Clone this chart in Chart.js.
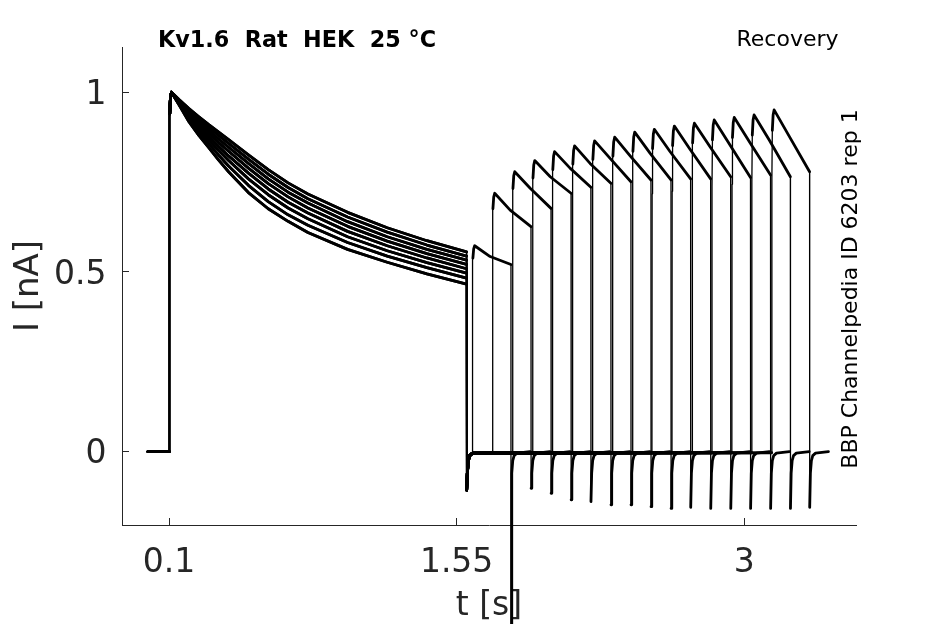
<!DOCTYPE html>
<html><head><meta charset="utf-8">
<script src="https://cdn.jsdelivr.net/npm/chart.js@4.4.0/dist/chart.umd.min.js"></script>
<style>html,body{margin:0;padding:0;background:#fff;overflow:hidden}#wrap{width:945px;height:624px}</style>
</head><body><div id="wrap"><canvas id="c" width="945" height="624"></canvas></div>
<script>
// ---- tick labels ----
const xTicks = [0.1, 1.55, 3];
const xTickLabels = ['0.1', '1.55', '3'];
const yTicks = [0, 0.5, 1];
const yTickLabels = ['0', '0.5', '1'];

// ---- first pulse (conditioning) decays ----
const decayT = [0.112, 0.15, 0.2, 0.25, 0.3, 0.35, 0.4, 0.5, 0.6, 0.7, 0.8, 1.0, 1.2, 1.4, 1.6];
const decay1 = [1, 0.980, 0.955, 0.932, 0.910, 0.889, 0.868, 0.826, 0.785, 0.748, 0.717, 0.666, 0.623, 0.587, 0.556];
const decay2 = [1, 0.977, 0.950, 0.925, 0.902, 0.880, 0.858, 0.814, 0.772, 0.735, 0.704, 0.653, 0.611, 0.575, 0.544];
const decay3 = [1, 0.975, 0.946, 0.919, 0.894, 0.870, 0.847, 0.802, 0.759, 0.722, 0.692, 0.640, 0.598, 0.563, 0.533];
const decay4 = [1, 0.973, 0.941, 0.912, 0.886, 0.860, 0.836, 0.789, 0.746, 0.709, 0.678, 0.627, 0.586, 0.551, 0.521];
const decay5 = [1, 0.971, 0.936, 0.905, 0.877, 0.849, 0.823, 0.775, 0.731, 0.694, 0.664, 0.613, 0.573, 0.539, 0.509];
const decay6 = [1, 0.969, 0.931, 0.898, 0.867, 0.838, 0.810, 0.759, 0.715, 0.678, 0.648, 0.598, 0.559, 0.526, 0.497];
const decay7 = [1, 0.967, 0.925, 0.889, 0.857, 0.825, 0.795, 0.741, 0.696, 0.659, 0.630, 0.582, 0.544, 0.512, 0.483];
const decay8 = [1, 0.965, 0.918, 0.880, 0.846, 0.811, 0.779, 0.721, 0.676, 0.641, 0.610, 0.563, 0.527, 0.495, 0.466];
const decays = [decay1, decay2, decay3, decay4, decay5, decay6, decay7, decay8];
const sweepDecay = [0, 3, 6, 1, 4, 7, 2, 5, 0, 3, 6, 1, 4, 7, 2, 5];

const p1Start = 0.1;
const p1End = 1.6;
const traceStart = -0.006;
const tail1Min = -0.107;

// ---- test pulses (one per sweep) ----
const p2Start = [1.629, 1.730, 1.831, 1.932, 2.032, 2.133, 2.234, 2.335, 2.436, 2.535, 2.636, 2.737, 2.837, 2.938, 3.038, 3.139];
const p2End   = [1.824, 1.925, 2.026, 2.127, 2.227, 2.328, 2.429, 2.530, 2.631, 2.730, 2.831, 2.932, 3.032, 3.133, 3.233, 3.330];
const p2Peak  = [0.573, 0.719, 0.779, 0.810, 0.835, 0.851, 0.865, 0.875, 0.889, 0.897, 0.906, 0.914, 0.923, 0.930, 0.937, 0.951];
const p2Mid   = [0.543, 0.672, 0.733, 0.765, 0.789, 0.802, 0.816, 0.823, 0.830, 0.836, 0.842, 0.849, 0.855, 0.861, 0.866, 0.876];
const p2Final = [0.521, 0.626, 0.677, 0.719, 0.736, 0.747, 0.751, 0.756, 0.756, 0.759, 0.759, 0.765, 0.763, 0.770, 0.765, 0.779];
const tailMin = [-3.0, -0.102, -0.116, -0.134, -0.139, -0.148, -0.148, -0.153, -0.158, -0.155, -0.158, -0.158, -0.158, -0.158, -0.158, -0.155];
const sweepStop = [1.920, 2.020, 2.121, 2.222, 2.322, 2.423, 2.524, 2.625, 2.726, 2.825, 2.926, 3.027, 3.127, 3.228, 3.328, 3.425];

// ---- shared waveform shapes ----
const riseDt   = [0, 0.0008, 0.003, 0.007, 0.012];
const riseFrac = [0, 0.80, 0.94, 0.985, 1];
const midDt = 0.09;
const tailDt  = [0.0005, 0.004, 0.009, 0.016, 0.03];
const tailVal = [null, -0.06, -0.025, -0.011, -0.004];
const baseLevel = -0.003;

function buildSweep(i) {
  const pts = [];
  pts.push([traceStart, 0], [p1Start, 0]);
  for (let k = 1; k < riseDt.length - 1; k++) pts.push([p1Start + riseDt[k], riseFrac[k]]);
  const d = decays[sweepDecay[i]];
  for (let k = 0; k < decayT.length; k++) pts.push([decayT[k], d[k]]);
  tailDt.forEach((dt, k) => pts.push([p1End + dt, k === 0 ? tail1Min : tailVal[k]]));
  const s = p2Start[i], e = p2End[i], pk = p2Peak[i];
  pts.push([s, baseLevel]);
  for (let k = 1; k < riseDt.length; k++) pts.push([s + riseDt[k], pk * riseFrac[k]]);
  pts.push([s + midDt, p2Mid[i]], [e, p2Final[i]]);
  tailDt.forEach((dt, k) => pts.push([e + dt, k === 0 ? tailMin[i] : tailVal[k]]));
  pts.push([sweepStop[i], 0]);
  return pts.map(p => ({x: p[0], y: p[1]}));
}

const datasets = p2Start.map((_, i) => {
  const ds = {
    data: buildSweep(i),
    borderColor: '#000',
    borderWidth: 2.8,
    pointRadius: 0,
    tension: 0,
    fill: false,
    borderCapStyle: 'round',
    borderJoinStyle: 'round',
    segment: {
      borderWidth: ctx => Math.abs(ctx.p1.parsed.x - ctx.p0.parsed.x) < 0.0025 ? 1.3 : 2.8
    }
  };
  if (i === 0) ds.clip = false;
  return ds;
});

const textPlugin = {
  id: 'texts',
  afterDraw(chart) {
    const c = chart.ctx;
    c.save();
    c.fillStyle = '#000';
    c.textBaseline = 'alphabetic';
    c.font = 'bold 22.3px "DejaVu Sans"';
    c.textAlign = 'center';
    c.fillText('Kv1.6  Rat  HEK  25 °C', 297, 46.5);
    c.font = '22px "DejaVu Sans"';
    c.fillText('Recovery', 787.5, 46);
    c.translate(857, 289);
    c.rotate(-Math.PI / 2);
    c.fillText('BBP Channelpedia ID 6203 rep 1', 0, 0);
    c.restore();
  }
};

const axisColor = '#262626';
new Chart(document.getElementById('c'), {
  type: 'line',
  data: {datasets},
  options: {
    responsive: false,
    animation: false,
    events: [],
    layout: {padding: {top: 47, right: 89, left: 0, bottom: 0}},
    plugins: {legend: {display: false}, tooltip: {enabled: false}},
    scales: {
      x: {
        type: 'linear', min: -0.1375, max: 3.564,
        afterBuildTicks: s => { s.ticks = xTicks.map(v => ({value: v})); },
        afterFit: s => { s.height = 99; },
        ticks: {autoSkip: false, maxRotation: 0, color: axisColor, padding: 29,
          font: {family: 'DejaVu Sans', size: 33, lineHeight: 1},
          callback: (v, idx) => xTickLabels[idx]},
        grid: {drawOnChartArea: false, tickLength: -7, color: axisColor, lineWidth: 1},
        border: {display: true, color: axisColor, width: 1},
        title: {display: true, text: 't [s]', color: axisColor,
          font: {family: 'DejaVu Sans', size: 33, lineHeight: 1}, padding: {top: 0, bottom: 1}}
      },
      y: {
        type: 'linear', min: -0.204, max: 1.126,
        afterBuildTicks: s => { s.ticks = yTicks.map(v => ({value: v})); },
        afterFit: s => { s.width = 122; },
        ticks: {autoSkip: false, color: axisColor, padding: 22.5,
          font: {family: 'DejaVu Sans', size: 33, lineHeight: '6px'},
          callback: (v, idx) => ['', yTickLabels[idx]]},
        grid: {drawOnChartArea: false, tickLength: -7, color: axisColor, lineWidth: 1},
        border: {display: true, color: axisColor, width: 1},
        title: {display: true, text: 'I [nA]', color: axisColor,
          font: {family: 'DejaVu Sans', size: 34, lineHeight: 1}, padding: {top: 12, bottom: 0}}
      }
    }
  },
  plugins: [textPlugin]
});
</script>
</body></html>
